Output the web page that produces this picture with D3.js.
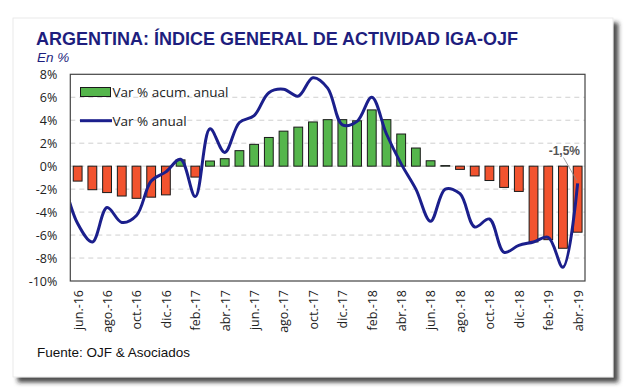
<!DOCTYPE html>
<html><head><meta charset="utf-8">
<script src="https://cdn.jsdelivr.net/npm/d3@7"></script>
<style>html,body{margin:0;padding:0;background:#fff;}svg{display:block;}</style>
</head><body>
<svg id="chart" width="630" height="392"></svg>
<script>
// ---- Data ----
const months = ["jun.-16","jul.-16","ago.-16","sep.-16","oct.-16","nov.-16","dic.-16",
  "ene.-17","feb.-17","mar.-17","abr.-17","may.-17","jun.-17","jul.-17","ago.-17","sep.-17","oct.-17","nov.-17","dic.-17",
  "ene.-18","feb.-18","mar.-18","abr.-18","may.-18","jun.-18","jul.-18","ago.-18","sep.-18","oct.-18","nov.-18","dic.-18",
  "ene.-19","feb.-19","mar.-19","abr.-19"];
// Var % acum. anual (bars)
const acumAnual = [-1.3,-2.05,-2.3,-2.6,-2.8,-2.7,-2.5,
  0.55,-0.95,0.45,0.65,1.35,1.9,2.5,3.05,3.4,3.85,4.05,4.05,
  3.95,4.9,4.05,2.8,1.58,0.47,0.05,-0.28,-0.85,-1.25,-1.85,-2.2,
  -6.6,-6.4,-7.15,-5.75];
// Var % anual (line) — series starts one month before the visible window (may.-16)
const lineMonths = ["may.-16"].concat(months);
const varAnual = [-1.0,-5.0,-6.6,-3.6,-4.9,-4.3,-1.3,-0.5,
  0.6,-2.65,3.25,1.2,3.8,4.4,6.4,6.7,6.1,7.7,6.8,3.6,
  3.9,6.0,2.8,0.2,-2.0,-4.8,-2.0,-2.4,-5.3,-4.6,-7.5,-6.9,
  -6.6,-6.2,-8.8,-1.5];
const yTicks = [-10,-8,-6,-4,-2,0,2,4,6,8];
const xTickMonths = months.filter((m,i)=> i%2===0);
const seriesNames = ["Var % acum. anual","Var % anual"];
const title = "ARGENTINA: ÍNDICE GENERAL DE ACTIVIDAD IGA-OJF";
const subtitle = "En %";
const source = "Fuente: OJF & Asociados";
const lastLabel = "-1,5%";

// ---- Layout ----
const svg = d3.select("#chart");
const plot = {left:70.3, right:585, top:74.3, bottom:281};
const green = "#55B64C", red = "#F2532F", navy = "#1B1F8C", titleColor = "#1E1E7E";
const uiFont = "'Open Sans', Lato, sans-serif";

const defs = svg.append("defs");
const f = defs.append("filter").attr("id","shadow").attr("x","-5%").attr("y","-5%").attr("width","115%").attr("height","115%");
f.append("feDropShadow").attr("dx",5).attr("dy",5).attr("stdDeviation",2.2).attr("flood-color","#222").attr("flood-opacity",0.8);
defs.append("clipPath").attr("id","plotclip").append("rect")
  .attr("x",plot.left).attr("y",plot.top).attr("width",plot.right-plot.left).attr("height",plot.bottom-plot.top);

// card
svg.append("rect").attr("x",13).attr("y",18).attr("width",600).attr("height",359)
  .attr("fill","#fff").attr("stroke","#e4e4e4").attr("stroke-width",0.8).attr("filter","url(#shadow)");

// scales
const x = d3.scaleLinear().domain([-0.5, months.length-0.5]).range([plot.left, plot.right]);
const xm = m => x(months.indexOf(m));
const xl = m => x(lineMonths.indexOf(m) - 1);
const y = d3.scaleLinear().domain([-10, 8]).range([plot.bottom, plot.top]);
const step = (plot.right-plot.left)/months.length;
const bw = step*0.6;

// gridlines
svg.append("g").selectAll("line").data(yTicks.filter(t=>t>-10 && t<8)).join("line")
  .attr("x1",plot.left).attr("x2",plot.right)
  .attr("y1",d=>y(d)).attr("y2",d=>y(d))
  .attr("stroke","#cfcfcf").attr("stroke-width",1).attr("stroke-dasharray","5,4");

// y axis
const yAxis = d3.axisLeft(y).tickValues(yTicks).tickSize(0).tickPadding(13).tickFormat(d=>d+"%");
const gy = svg.append("g").attr("transform",`translate(${plot.left},0)`).call(yAxis);
gy.select(".domain").remove();
gy.selectAll("text").attr("font-family",uiFont).attr("font-size",12.5).attr("fill","#222");

// x axis labels
const xAxis = d3.axisBottom(x).tickValues(xTickMonths.map(m=>months.indexOf(m))).tickSize(0)
  .tickFormat(i=>months[i]);
const gx = svg.append("g").attr("transform",`translate(0,${plot.bottom})`).call(xAxis);
gx.select(".domain").remove();
gx.selectAll("text").attr("font-family",uiFont).attr("font-size",12.5).attr("fill","#222")
  .attr("text-anchor","end").attr("transform","rotate(-90)")
  .attr("x",-9).attr("y",0).attr("dy","0.35em");

// bars
svg.append("g").selectAll("rect").data(months.map((m,i)=>({m, v:acumAnual[i]}))).join("rect")
  .attr("x",d=>xm(d.m)-bw/2).attr("width",bw)
  .attr("y",d=>y(Math.max(0,d.v))).attr("height",d=>Math.abs(y(d.v)-y(0)))
  .attr("fill",d=>d.v>=0?green:red).attr("stroke","#1a1a1a").attr("stroke-width",1);

// line
const lineData = lineMonths.map((m,i)=>({m, v:varAnual[i]}));
svg.append("path").datum(lineData).attr("clip-path","url(#plotclip)")
  .attr("d", d3.line().x(d=>xl(d.m)).y(d=>y(d.v)).curve(d3.curveCatmullRom.alpha(0.5)))
  .attr("fill","none").attr("stroke",navy).attr("stroke-width",3).attr("stroke-linejoin","round");

// plot border
svg.append("rect").attr("x",plot.left).attr("y",plot.top).attr("width",plot.right-plot.left).attr("height",plot.bottom-plot.top)
  .attr("fill","none").attr("stroke","#444").attr("stroke-width",1.2);

// legend
const lg = svg.append("g");
lg.append("rect").attr("x",80.5).attr("y",87.5).attr("width",30).attr("height",9).attr("fill",green).attr("stroke","#1a1a1a");
lg.append("text").attr("x",112.5).attr("y",97).text(seriesNames[0]);
lg.append("line").attr("x1",80).attr("x2",112).attr("y1",120.7).attr("y2",120.7).attr("stroke",navy).attr("stroke-width",3);
lg.append("text").attr("x",112.5).attr("y",125.5).text(seriesNames[1]);
lg.selectAll("text").attr("font-family",uiFont).attr("font-size",13.5).attr("fill","#222");

// annotation of last value
const last = lineData[lineData.length-1];
svg.append("line").attr("x1",563.5).attr("y1",157.5).attr("x2",xl(last.m)-1).attr("y2",y(last.v)-3)
  .attr("stroke","#888").attr("stroke-width",0.8);
svg.append("text").attr("x",580).attr("y",154.5).attr("text-anchor","end")
  .attr("font-family","'Liberation Sans', Arial, sans-serif").attr("font-weight","bold").attr("font-size",12)
  .attr("fill","#555").text(lastLabel);

// titles
svg.append("text").attr("x",36).attr("y",44.5).attr("font-family","'Liberation Sans', Arial, sans-serif")
  .attr("font-weight","bold").attr("font-size",18).attr("fill",titleColor).text(title);
svg.append("text").attr("x",37).attr("y",62).attr("font-family","'Liberation Sans', Arial, sans-serif")
  .attr("font-style","italic").attr("font-size",13.5).attr("fill",titleColor).text(subtitle);
svg.append("text").attr("x",37).attr("y",357).attr("font-family","'Liberation Sans', Arial, sans-serif")
  .attr("font-size",13.5).attr("fill","#111").text(source);
</script>
</body></html>
